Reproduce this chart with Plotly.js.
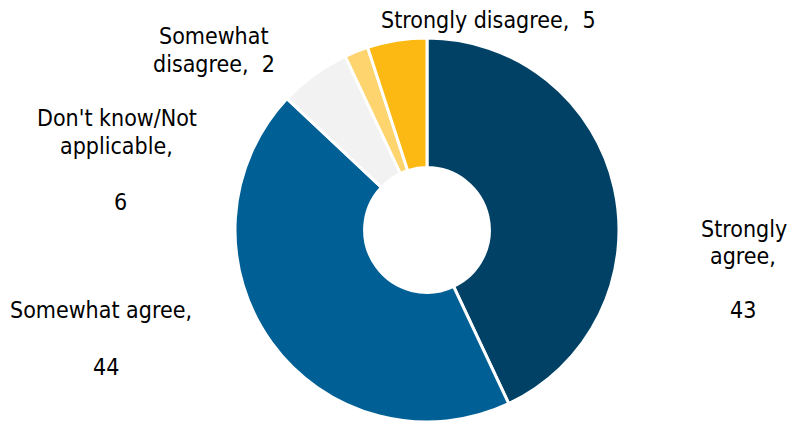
<!DOCTYPE html>
<html>
<head>
<meta charset="utf-8">
<script src="https://cdn.plot.ly/plotly-3.0.1.min.js"></script>
<style>html,body{margin:0;padding:0;background:#fff;}#chart{width:788px;height:423px;}</style>
</head>
<body>
<div id="chart"></div>
<script>
const categories = ["Strongly agree", "Somewhat agree", "Don't know/Not applicable", "Somewhat disagree", "Strongly disagree"];
const values = [43, 44, 6, 2, 5];
const colors = ["#004165", "#006096", "#f2f2f2", "#fdd46e", "#fdb913"];
// label lines for each slice (text only; value appended from values array)
const labelLines = [
  ["Strongly", "agree,", String(values[0])],
  ["Somewhat agree,", String(values[1])],
  ["Don't know/Not", "applicable,", String(values[2])],
  ["Somewhat", "disagree,  " + values[3]],
  ["Strongly disagree,  " + values[4]]
];
const W = 788, H = 423;
const linePos = [
  [[744, 229], [743, 256], [743, 310]],
  [[101, 310], [106, 367]],
  [[117, 118], [116, 146], [120, 202]],
  [[214, 36], [214, 64]],
  [[488, 20]]
];

const font = {family: "DejaVu Sans Condensed, DejaVu Sans, sans-serif", size: 23, color: "#000"};

const trace = {
  type: "pie",
  labels: categories,
  values: values,
  sort: false,
  direction: "clockwise",
  rotation: 0,
  hole: 0.325,
  textinfo: "none",
  hoverinfo: "label+value",
  marker: {colors: colors, line: {color: "#ffffff", width: 3}},
  domain: {x: [(427 - 192) / W, (427 + 192) / W], y: [(193 - 192) / H, (193 + 192) / H]},
  showlegend: false
};

const annotations = [];
labelLines.forEach((lines, i) => {
  lines.forEach((t, j) => {
    annotations.push({
      text: t,
      xref: "paper", yref: "paper",
      x: linePos[i][j][0] / W, y: 1 - linePos[i][j][1] / H,
      xanchor: "center", yanchor: "middle",
      showarrow: false,
      font: font
    });
  });
});

Plotly.newPlot("chart", [trace], {
  width: W, height: H,
  margin: {l: 0, r: 0, t: 0, b: 0},
  paper_bgcolor: "#fff",
  showlegend: false,
  annotations: annotations
}, {displayModeBar: false, staticPlot: true});
</script>
</body>
</html>
